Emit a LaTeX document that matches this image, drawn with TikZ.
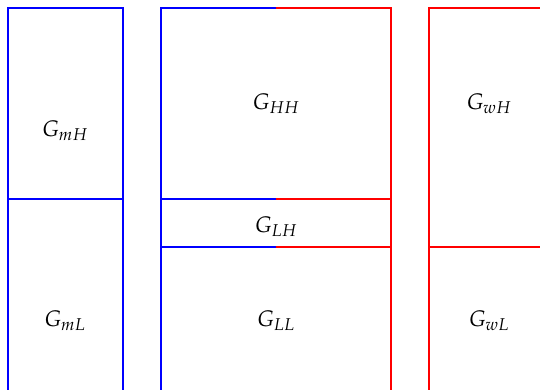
\documentclass[tikz,border=0pt]{standalone}
\usepackage{mathpazo}
\begin{document}
\begin{tikzpicture}[x=1pt,y=-1pt,
  bl/.style={draw=blue,line width=1.6pt},
  rd/.style={draw=red,line width=1.6pt},
  lab/.style={font=\fontsize{22.5}{26}\selectfont}]
\useasboundingbox (0,0) rectangle (540,390);
% left block
\draw[bl] (8,395) -- (8,8) -- (123,8) -- (123,395);
\draw[bl] (8,199) -- (123,199);
% middle block
\draw[bl] (161,395) -- (161,8) -- (276,8);
\draw[rd] (276,8) -- (391,8) -- (391,395);
\draw[bl] (161,199) -- (276,199);
\draw[rd] (276,199) -- (391,199);
\draw[bl] (161,247) -- (276,247);
\draw[rd] (276,247) -- (391,247);
% right block
\draw[rd] (429,395) -- (429,8) -- (545,8);
\draw[rd] (429,247) -- (545,247);
% labels
\node[lab] (mH) at (65,131) {$G_{mH}$};
\node[lab] (mL) at (65,321) {$G_{mL}$};
\node[lab] (HH) at (276,104) {$G_{HH}$};
\node[lab] (LH) at (276,227) {$G_{LH}$};
\node[lab] (LL) at (276,321) {$G_{LL}$};
\node[lab] (wH) at (489,104) {$G_{wH}$};
\node[lab] (wL) at (489,321) {$G_{wL}$};
\end{tikzpicture}
\end{document}
